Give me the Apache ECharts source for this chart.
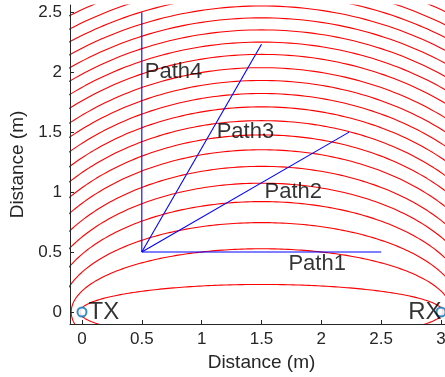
<!DOCTYPE html>
<html>
<head>
<meta charset="utf-8">
<script src="https://cdn.jsdelivr.net/npm/echarts@6/dist/echarts.min.js"></script>
<style>
  html, body { margin: 0; padding: 0; background: #fff; }
  #chart { width: 445px; height: 377px; }
</style>
</head>
<body>
<div id="chart"></div>
<script>
// TX / RX antenna positions (m)
var txPos = [0, 0];
var rxPos = [3, 0];
// extra path length of each red ellipse (m)
var zoneExcess = [0.035, 0.18, 0.35, 0.52, 0.69, 0.86, 1.04, 1.21, 1.38, 1.55, 1.72,
  1.89, 2.06, 2.24, 2.41, 2.58, 2.75, 2.92, 3.09, 3.26, 3.44, 3.61, 3.78];
// reflection paths: common start and end points
var pathStart = [0.5, 0.5];
var pathEnds = [[2.5, 0.5], [2.232, 1.5], [1.5, 2.232], [0.5, 2.5]];
// text labels
var pathLabels = [['Path1', 1.7, 0.4], ['Path2', 1.5, 1.0], ['Path3', 1.1, 1.5], ['Path4', 0.5, 2.0]];
var antLabels = [['TX', 0.03, 0], ['RX', 2.7, 0]];
// tick values
var xTicks = [0, 0.5, 1, 1.5, 2, 2.5, 3];
var yTicks = [0, 0.5, 1, 1.5, 2, 2.5];

var axisColor = '#262626';
var font = 'Liberation Sans, Arial, Helvetica, sans-serif';

// ellipse with foci at TX and RX
function ellipsePoints(excess) {
    var d = rxPos[0] - txPos[0];
    var a = (d + excess) / 2;
    var b = Math.sqrt(a * a - (d / 2) * (d / 2));
    var cx = (txPos[0] + rxPos[0]) / 2;
    var pts = [];
    for (var i = 0; i <= 360; i++) {
        var t = i / 360 * 2 * Math.PI;
        pts.push([cx + a * Math.cos(t), b * Math.sin(t)]);
    }
    return pts;
}

var series = [];
zoneExcess.forEach(function (e) {
    series.push({
        type: 'line',
        data: ellipsePoints(e),
        showSymbol: false,
        silent: true,
        clip: true,
        lineStyle: { color: '#ff0000', width: 1.1 }
    });
});
pathEnds.forEach(function (p) {
    series.push({
        type: 'line',
        data: [pathStart, p],
        showSymbol: false,
        silent: true,
        lineStyle: { color: '#0000ff', width: 1.1 }
    });
});
series.push({
    type: 'scatter',
    data: [txPos, rxPos],
    symbol: 'emptyCircle',
    symbolSize: 9,
    silent: true,
    clip: false,
    itemStyle: { color: '#0072bd', borderColor: '#0072bd', borderWidth: 1.5 },
    z: 5
});
series.push({
    type: 'scatter',
    data: pathLabels.map(function (l) { return { name: l[0], value: [l[1], l[2]] }; }),
    symbolSize: 0,
    silent: true,
    label: { show: true, position: 'right', distance: 3, formatter: '{b}',
        color: '#000', fontSize: 22, fontFamily: font },
    z: 6
});
series.push({
    type: 'scatter',
    data: antLabels.map(function (l) { return { name: l[0], value: [l[1], l[2]] }; }),
    symbolSize: 0,
    silent: true,
    label: { show: true, position: 'right', distance: 3, formatter: '{b}',
        color: '#000', fontSize: 24, fontFamily: font },
    z: 6
});

var chart = echarts.init(document.getElementById('chart'));
chart.setOption({
    animation: false,
    backgroundColor: '#fff',
    grid: { left: 70, width: 383, top: 5, bottom: 53, containLabel: false, outerBoundsMode: 'none' },
    xAxis: {
        type: 'value', min: -0.1, max: 3.1, z: 4,
        name: 'Distance (m)', nameLocation: 'middle', nameGap: 26,
        nameTextStyle: { color: axisColor, fontSize: 19, fontFamily: font },
        axisLine: { onZero: false, lineStyle: { color: axisColor, width: 1 } },
        axisTick: { inside: true, length: 4, customValues: xTicks, lineStyle: { color: axisColor } },
        axisLabel: { customValues: xTicks, color: axisColor, fontSize: 17, fontFamily: font, margin: 7 },
        splitLine: { show: false }
    },
    yAxis: {
        type: 'value', min: -0.1, max: 2.56, z: 4,
        name: 'Distance (m)', nameLocation: 'middle', nameGap: 40, nameRotate: 90,
        nameTextStyle: { color: axisColor, fontSize: 19, fontFamily: font },
        axisLine: { show: true, onZero: false, lineStyle: { color: axisColor, width: 1 } },
        axisTick: { show: true, inside: true, length: 4, customValues: yTicks, lineStyle: { color: axisColor } },
        axisLabel: { customValues: yTicks, color: axisColor, fontSize: 17, fontFamily: font, margin: 8 },
        splitLine: { show: false }
    },
    series: series
});
</script>
</body>
</html>
